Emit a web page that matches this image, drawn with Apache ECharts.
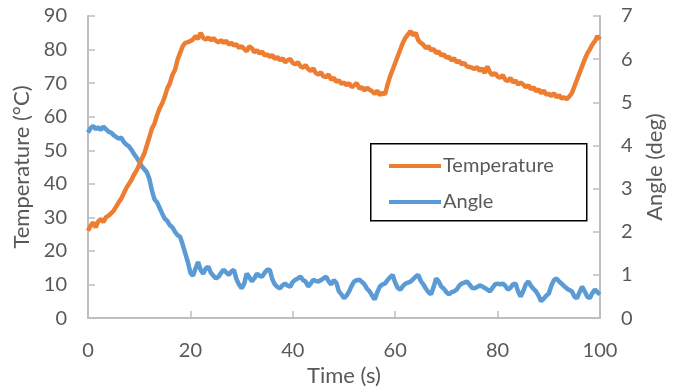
<!DOCTYPE html>
<html>
<head>
<meta charset="utf-8">
<script src="https://cdn.jsdelivr.net/npm/echarts@6/dist/echarts.min.js"></script>
<style>html,body{margin:0;padding:0;background:#fff;}#c{width:682px;height:392px;}</style>
</head>
<body>
<div id="c"></div>
<script>
// Time in seconds, sampled every 0.5 s (0 .. 100)
const timeStep = 0.5;
const xTicks = [0, 20, 40, 60, 80, 100];
const tempTicks = [0, 10, 20, 30, 40, 50, 60, 70, 80, 90];
const angleTicks = [0, 1, 2, 3, 4, 5, 6, 7];

const temperature = [
  26.0, 27.5, 28.5, 27.0, 28.8, 29.5, 28.6, 30.0, 30.5, 31.2, 32.0,
  33.2, 34.5, 35.6, 37.2, 38.8, 40.0, 41.2, 42.8, 44.0, 45.6,
  47.5, 49.0, 51.5, 54.0, 56.5, 58.0, 60.5, 62.5, 64.0, 66.0,
  68.5, 70.0, 72.5, 74.0, 77.0, 79.0, 81.0, 82.0, 82.2, 82.5,
  83.0, 84.0, 83.2, 85.0, 83.5, 83.0, 83.6, 82.8, 83.4, 82.6,
  82.2, 82.8, 82.0, 82.6, 81.5, 82.0, 81.2, 81.6, 80.5, 81.0,
  80.2, 79.5, 81.0, 80.4, 79.2, 79.8, 78.8, 79.4, 78.2, 78.6,
  77.8, 78.4, 77.2, 77.8, 76.8, 77.4, 76.2, 76.8, 77.2, 76.0,
  75.6, 76.2, 75.0, 74.6, 75.4, 74.2, 73.6, 74.4, 73.0, 72.6,
  73.2, 72.0, 71.8, 72.6, 71.0, 71.6, 70.4, 70.8, 69.8, 70.2,
  69.4, 70.0, 68.8, 69.4, 70.0, 68.4, 68.8, 67.8, 68.6, 68.0,
  67.6, 66.8, 67.8, 66.4, 67.2, 66.6, 69.5, 72.0, 74.0, 76.0,
  78.0, 80.0, 82.0, 83.5, 84.5, 85.5, 84.2, 85.0, 82.8, 82.0,
  81.4, 80.4, 81.0, 79.8, 80.2, 79.0, 79.4, 78.2, 78.6, 77.6,
  77.8, 76.8, 77.4, 76.2, 76.6, 75.6, 76.0, 75.0, 74.8, 74.6,
  74.2, 74.8, 73.6, 74.4, 73.0, 75.0, 73.2, 72.4, 73.0, 72.0,
  71.6, 72.4, 71.0, 70.6, 71.6, 70.2, 70.8, 69.6, 70.2, 69.6,
  68.8, 69.4, 68.2, 68.8, 67.6, 68.2, 67.0, 67.8, 66.6, 66.8,
  66.2, 67.0, 65.8, 66.4, 65.4, 65.8, 65.2, 66.0, 67.0, 69.0,
  71.0, 73.0, 75.0, 77.0, 78.8, 80.0, 81.5, 82.5, 84.0, 83.0
];

const angle = [
  4.30, 4.40, 4.45, 4.38, 4.42, 4.36, 4.44, 4.38, 4.32, 4.30, 4.24,
  4.20, 4.16, 4.18, 4.08, 4.02, 3.98, 3.90, 3.80, 3.72, 3.62,
  3.52, 3.45, 3.38, 3.22, 2.95, 2.75, 2.68, 2.55, 2.42, 2.30,
  2.25, 2.15, 2.10, 2.00, 1.92, 1.88, 1.70, 1.50, 1.30, 1.05,
  0.98, 1.15, 1.30, 1.12, 1.03, 1.15, 1.19, 1.05, 0.98, 0.92,
  0.96, 1.05, 1.12, 1.06, 1.00, 1.08, 1.12, 0.90, 0.78, 0.69,
  0.80, 1.03, 0.95, 0.85, 0.92, 1.03, 0.98, 0.96, 1.05, 1.12,
  1.12, 0.90, 0.78, 0.72, 0.69, 0.76, 0.80, 0.75, 0.73, 0.84,
  0.89, 0.92, 0.96, 0.88, 0.85, 0.73, 0.80, 0.89, 0.86, 0.85,
  0.88, 0.92, 0.96, 0.85, 0.78, 0.88, 0.82, 0.62, 0.55, 0.46,
  0.52, 0.62, 0.75, 0.85, 0.88, 0.89, 0.84, 0.78, 0.68, 0.62,
  0.52, 0.43, 0.60, 0.73, 0.78, 0.80, 0.88, 0.95, 1.00, 0.82,
  0.70, 0.66, 0.74, 0.80, 0.82, 0.85, 0.90, 0.96, 1.00, 0.86,
  0.78, 0.68, 0.60, 0.55, 0.72, 0.92, 0.85, 0.73, 0.68, 0.60,
  0.55, 0.60, 0.62, 0.66, 0.75, 0.80, 0.82, 0.85, 0.78, 0.70,
  0.69, 0.72, 0.76, 0.73, 0.70, 0.66, 0.62, 0.70, 0.78, 0.80,
  0.78, 0.80, 0.75, 0.66, 0.70, 0.78, 0.80, 0.62, 0.50, 0.62,
  0.78, 0.85, 0.75, 0.68, 0.62, 0.52, 0.39, 0.45, 0.52, 0.57,
  0.75, 0.88, 0.92, 0.85, 0.80, 0.74, 0.69, 0.65, 0.62, 0.50,
  0.46, 0.60, 0.73, 0.62, 0.50, 0.46, 0.58, 0.66, 0.60, 0.55
];

const seriesNames = ['Temperature', 'Angle'];
const axisNames = { x: 'Time (s)', left: 'Temperature (°C)', right: 'Angle (deg)' };

const tempData = temperature.map((v, i) => [i * timeStep, v]);
const angleData = angle.map((v, i) => [i * timeStep, v]);

const FONT = 'Lato';
const TXT = '#595959';
const AX = '#bfbfbf';

const chart = echarts.init(document.getElementById('c'), null, { renderer: 'canvas' });

function yAxisCfg(ticks, pos, name, gap) {
  return {
    type: 'value', position: pos,
    min: ticks[0], max: ticks[ticks.length - 1], interval: ticks[1] - ticks[0],
    name: name, nameLocation: 'middle', nameGap: gap, nameRotate: 90,
    nameTextStyle: { fontFamily: FONT, fontSize: 22, color: TXT },
    axisLine: { show: true, lineStyle: { color: AX, width: 2 } },
    axisTick: { show: true, inside: true, length: 7, lineStyle: { color: AX, width: 1.5 } },
    axisLabel: { fontFamily: FONT, fontSize: 20, color: TXT, margin: 21 },
    splitLine: { show: false }
  };
}

chart.setOption({
  animation: false,
  backgroundColor: '#fff',
  grid: { left: 88, right: 82, top: 16, bottom: 70, containLabel: false },
  xAxis: {
    type: 'value', min: xTicks[0], max: xTicks[xTicks.length - 1], interval: xTicks[1] - xTicks[0],
    name: axisNames.x, nameLocation: 'middle', nameGap: 43,
    nameTextStyle: { fontFamily: FONT, fontSize: 22, color: TXT },
    axisLine: { show: true, lineStyle: { color: AX, width: 2 } },
    axisTick: { show: true, inside: true, length: 7, lineStyle: { color: AX, width: 1.5 } },
    axisLabel: { fontFamily: FONT, fontSize: 20, color: TXT, margin: 22 },
    splitLine: { show: false }
  },
  yAxis: [
    yAxisCfg(tempTicks, 'left', axisNames.left, 50),
    yAxisCfg(angleTicks, 'right', axisNames.right, 44)
  ],
  graphic: [{
    type: 'rect', left: 370, top: 143, z: 90,
    shape: { width: 216, height: 77 },
    style: { fill: '#fff', stroke: '#000', lineWidth: 1.5 }
  }],
  legend: {
    orient: 'vertical', left: 384, top: 151, z: 100,
    icon: 'rect', itemWidth: 52, itemHeight: 4, itemGap: 16,
    textStyle: { fontFamily: FONT, fontSize: 20, color: TXT, padding: [0, 0, 0, -3] },
    data: seriesNames
  },
  series: [
    {
      name: seriesNames[1], type: 'line', yAxisIndex: 1, data: angleData,
      symbol: 'none', smooth: false,
      lineStyle: { color: '#5B9BD5', width: 4.5 }, itemStyle: { color: '#5B9BD5' }
    },
    {
      name: seriesNames[0], type: 'line', yAxisIndex: 0, data: tempData,
      symbol: 'none', smooth: false,
      lineStyle: { color: '#ED7D31', width: 4.5 }, itemStyle: { color: '#ED7D31' }
    }
  ]
});
</script>
</body>
</html>
